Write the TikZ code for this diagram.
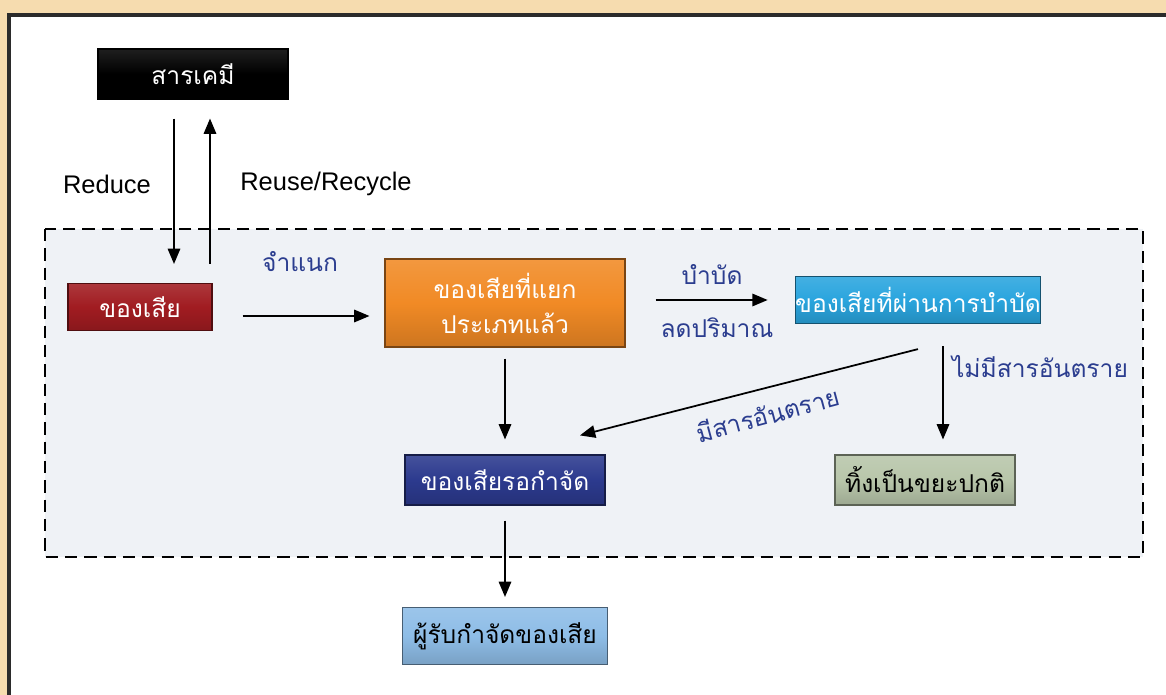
\documentclass[tikz,border=0pt]{standalone}
\usepackage{fontspec}
\setmainfont{Liberation Sans}
\newfontfamily\thfont[Script=Thai]{Loma}
\usetikzlibrary{arrows}

\definecolor{beige}{HTML}{F6DCAF}
\definecolor{frame}{HTML}{2B2B2B}
\definecolor{zone}{HTML}{EFF2F6}
\definecolor{wred}{HTML}{A11C21}
\definecolor{worange}{HTML}{F18A25}
\definecolor{wblue}{HTML}{2AA5DE}
\definecolor{wnavy}{HTML}{2C3A8E}
\definecolor{wgreen}{HTML}{B8C6AA}
\definecolor{wsky}{HTML}{8EBDE7}
\definecolor{lbl}{HTML}{2B3D8F}

\begin{document}
\begin{tikzpicture}[x=0.02cm, y=-0.02cm, align=center, >=triangle 45,
  box/.style={rectangle, inner sep=0pt, top color=#1!88!white, bottom color=#1!85!black,
              middle color=#1, draw=#1!50!black, line width=0.7pt,
              text=white, font=\thfont\fontsize{14}{20}\selectfont},
  lab/.style={text=lbl, font=\thfont\fontsize{14}{18}\selectfont},
  eng/.style={font=\fontsize{14.5}{16}\selectfont},
  flow/.style={->, line width=1pt}]

\useasboundingbox (0,0) rectangle (1166,695);
\fill[beige] (0,0) rectangle (1166,695);
\fill[white] (9,15) rectangle (1166,695);
\draw[frame, line width=1.8pt] (1166,15) -- (9,15) -- (9,695);

\draw[line width=1.2pt, dash pattern=on 7pt off 4pt, fill=zone] (45,229) rectangle (1143,557);

\path (193,74) node[box=black, minimum width=3.8cm, minimum height=1cm] (chem) {สารเคมี}
      (140,307) node[box=wred, minimum width=2.88cm, minimum height=0.94cm] (waste) {ของเสีย}
      (505,303) node[box=worange, minimum width=4.8cm, minimum height=1.76cm] (sorted) {ของเสียที่แยก\\ประเภทแล้ว}
      (918,300) node[box=wblue, minimum width=4.82cm, minimum height=0.94cm] (treated) {ของเสียที่ผ่านการบำบัด}
      (925,480) node[box=wgreen, text=black, minimum width=3.6cm, minimum height=1cm] (normal) {ทิ้งเป็นขยะปกติ}
      (505,480) node[box=wnavy, minimum width=4cm, minimum height=1cm] (pending) {ของเสียรอกำจัด}
      (505,636) node[box=wsky, text=black, minimum width=4.1cm, minimum height=1.14cm] (disposer) {ผู้รับกำจัดของเสีย}

      (107,184) node[eng] (lReduce) {Reduce}
      (326,184) node[eng] (lReuse) {Reuse/Recycle}
      (300,262) node[lab] (lSort) {จำแนก}
      (712,274) node[lab] (lTreat) {บำบัด}
      (717,328) node[lab] (lCut) {ลดปริมาณ}
      (768,414) node[lab, rotate=15] (lHaz) {มีสารอันตราย}
      (1040,367) node[lab] (lSafe) {ไม่มีสารอันตราย};

\draw[flow] ([shift={(-19,19)}]chem.south) -- ([shift={(34,-19)}]waste.north);
\draw[flow] ([shift={(70,-19)}]waste.north) -- ([shift={(17,19)}]chem.south);
\draw[flow] ([shift={(30,9)}]waste.east) -- ([shift={(-15,13)}]sorted.west);
\draw[flow] ([shift={(30,-3)}]sorted.east) -- ([shift={(-27,0)}]treated.west);
\draw[flow] ([shift={(25,22)}]treated.south) -- ([shift={(18,-15)}]normal.north);
\draw[flow] ([shift={(0,25)}]treated.south) -- ([shift={(75,-19)}]pending.north);
\draw[flow] ([shift={(0,11)}]sorted.south) -- ([shift={(0,-15)}]pending.north);
\draw[flow] ([shift={(0,15)}]pending.south) -- ([shift={(0,-10)}]disposer.north);

\end{tikzpicture}
\end{document}
